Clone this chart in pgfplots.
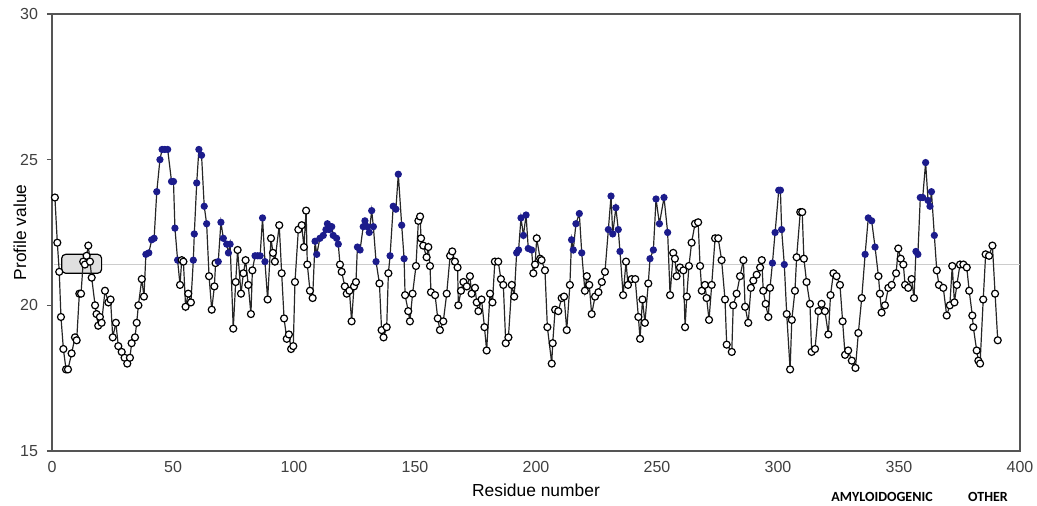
\documentclass[border=0pt]{standalone}
\usepackage{fontspec}
\setmainfont{Liberation Sans}
\newfontfamily\legfont{Carlito}
\usepackage{pgfplots}
\pgfplotsset{compat=1.18}
\usepackage{pgfplotstable}

\definecolor{amyblue}{RGB}{28,28,140}
\definecolor{axgray}{RGB}{85,85,85}

% residue, profile value, class (b = amyloidogenic)
\pgfplotstableread{
x y c
1.2 23.7 a
2.2 22.15 a
3.0 21.15 a
3.7 19.6 a
4.7 18.5 a
5.8 17.8 a
6.6 17.8 a
8.1 18.35 a
9.5 18.9 a
10.2 18.8 a
11.3 20.4 a
12.0 20.4 a
12.9 21.5 a
13.6 21.4 a
14.3 21.7 a
15.0 22.05 a
15.7 21.5 a
16.4 20.95 a
17.8 20.0 a
18.4 19.7 a
19.1 19.3 a
19.8 19.6 a
20.5 19.4 a
21.9 20.5 a
23.3 20.1 a
24.2 20.2 a
25.1 18.9 a
26.4 19.4 a
27.4 18.6 a
28.8 18.4 a
30.0 18.2 a
31.1 18.0 a
32.2 18.2 a
32.9 18.7 a
34.3 18.9 a
35.0 19.4 a
35.7 20.0 a
37.1 20.9 a
38.0 20.3 a
38.8 21.75 b
40.0 21.8 b
41.2 22.25 b
42.2 22.3 b
43.3 23.9 b
44.6 25.0 b
45.5 25.35 b
46.6 25.35 b
47.8 25.35 b
49.4 24.25 b
50.2 24.25 b
50.8 22.65 b
51.9 21.55 b
52.9 20.7 a
53.6 21.55 a
54.3 21.5 a
55.2 19.95 a
56.3 20.4 a
57.4 20.1 a
58.4 21.55 b
58.8 22.45 b
59.8 24.2 b
60.7 25.35 b
61.8 25.15 b
62.9 23.4 b
63.9 22.8 b
64.9 21.0 a
66.0 19.85 a
67.1 20.65 a
67.6 21.45 a
68.7 21.5 b
69.8 22.85 b
70.8 22.3 b
72.2 22.1 b
72.9 21.8 b
73.6 22.1 b
74.9 19.2 a
75.9 20.8 a
76.7 21.9 a
78.1 20.4 a
79.1 21.1 a
80.0 21.55 a
81.1 20.7 a
82.2 19.7 a
82.8 21.2 a
83.9 21.7 b
85.0 21.7 b
86.0 21.7 b
87.0 23.0 b
88.0 21.5 b
89.1 20.2 a
90.5 22.3 a
91.3 21.8 a
92.1 21.5 a
93.9 22.75 a
94.9 21.1 a
95.9 19.55 a
97.0 18.85 a
97.9 19.0 a
98.8 18.5 a
99.7 18.6 a
100.4 20.8 a
101.8 22.6 a
103.2 22.75 a
104.1 22.0 a
105.0 23.25 a
105.5 21.4 a
106.6 20.5 a
107.7 20.25 a
108.7 22.2 b
109.4 21.75 b
110.7 22.3 b
112.1 22.4 b
113.2 22.6 b
113.8 22.8 b
114.6 22.6 b
115.6 22.7 b
116.2 22.4 b
117.6 22.3 b
118.3 22.1 b
119.0 21.4 a
119.7 21.15 a
121.0 20.65 a
121.8 20.4 a
122.9 20.5 a
123.8 19.45 a
124.8 20.65 a
125.6 20.8 a
126.2 22.0 b
127.3 21.9 b
128.6 22.7 b
129.3 22.9 b
130.3 22.7 b
131.1 22.5 b
132.1 23.25 b
132.8 22.7 b
133.9 21.5 b
135.3 20.75 a
136.2 19.15 a
137.0 18.9 a
138.3 19.25 a
139.0 21.1 a
139.7 21.7 b
141.0 23.4 b
142.1 23.3 b
143.1 24.5 b
144.5 22.75 b
145.5 21.6 b
145.9 20.35 a
147.2 19.8 a
147.9 19.45 a
149.0 20.4 a
150.4 21.35 a
151.4 22.9 a
152.1 23.05 a
152.5 22.3 a
153.4 22.05 a
154.8 21.65 a
155.5 22.0 a
156.2 21.35 a
156.6 20.45 a
158.3 20.35 a
159.4 19.55 a
160.3 19.15 a
161.7 19.45 a
163.1 20.4 a
164.5 21.7 a
165.4 21.85 a
166.5 21.5 a
167.6 21.3 a
167.9 20.0 a
169.0 20.5 a
170.0 20.8 a
171.4 20.65 a
172.7 21.0 a
173.4 20.4 a
174.8 20.6 a
175.5 20.1 a
176.2 19.8 a
177.5 20.2 a
178.7 19.25 a
179.6 18.45 a
181.0 20.4 a
182.0 20.1 a
183.0 21.5 a
184.4 21.5 a
185.5 20.9 a
186.5 20.7 a
187.5 18.7 a
188.6 18.9 a
190.0 20.7 a
191.0 20.3 a
192.0 21.8 b
192.8 21.9 b
193.8 23.0 b
194.8 22.4 b
195.9 23.1 b
196.8 21.95 b
198.2 21.9 b
198.9 21.1 a
199.6 21.4 a
200.3 22.3 a
201.7 21.6 a
202.3 21.55 a
203.7 21.2 a
204.7 19.25 a
206.5 18.0 a
206.9 18.7 a
207.9 19.85 a
209.2 19.8 a
210.6 20.25 a
211.6 20.3 a
212.7 19.15 a
214.0 20.7 a
214.7 22.25 b
215.4 21.9 b
216.5 22.8 b
217.9 23.15 b
218.9 21.8 b
220.2 20.5 a
221.0 21.0 a
222.0 20.7 a
223.0 19.7 a
224.4 20.3 a
225.8 20.45 a
227.2 20.8 a
228.5 21.15 a
229.9 22.6 b
231.0 23.75 b
231.7 22.45 b
233.0 23.35 b
234.0 22.6 b
234.7 21.85 b
236.0 20.35 a
237.2 21.5 a
238.0 20.7 a
239.5 20.9 a
241.0 20.9 a
242.3 19.6 a
243.0 18.85 a
244.0 20.2 a
245.0 19.4 a
246.4 20.75 a
247.1 21.6 b
248.5 21.9 b
249.6 23.65 b
251.0 22.8 b
252.9 23.7 b
254.4 22.5 b
255.4 20.35 a
256.7 21.8 a
257.4 21.6 a
258.1 21.0 a
259.5 21.3 a
260.9 21.2 a
261.6 19.25 a
262.3 20.3 a
263.2 21.35 a
264.3 22.15 a
265.7 22.8 a
267.0 22.85 a
267.8 21.35 a
268.5 20.5 a
269.8 20.7 a
270.5 20.25 a
271.5 19.5 a
272.6 20.7 a
274.0 22.3 a
275.3 22.3 a
276.7 21.55 a
278.1 20.2 a
278.8 18.65 a
280.9 18.4 a
281.5 20.0 a
282.9 20.4 a
284.3 21.0 a
285.7 21.55 a
286.4 19.95 a
287.7 19.4 a
288.8 20.6 a
289.8 20.85 a
291.2 21.05 a
292.6 21.3 a
293.3 21.55 a
293.9 20.5 a
294.9 20.05 a
296.0 19.6 a
296.7 20.6 a
297.7 21.45 b
298.8 22.5 b
300.3 23.95 b
301.0 23.95 b
301.5 22.6 b
302.6 21.4 b
303.6 19.7 a
305.0 17.8 a
305.7 19.5 a
307.0 20.5 a
307.7 21.65 a
309.2 23.2 a
310.0 23.2 a
310.7 21.6 a
311.8 20.8 a
313.2 20.05 a
313.9 18.4 a
315.3 18.5 a
316.7 19.8 a
318.0 20.05 a
319.4 19.8 a
320.8 19.0 a
321.7 20.35 a
322.9 21.1 a
324.2 21.0 a
325.6 20.7 a
326.7 19.45 a
327.7 18.3 a
329.0 18.45 a
330.5 18.1 a
332.0 17.85 a
333.2 19.05 a
334.6 20.25 a
336.0 21.75 b
337.3 23.0 b
338.7 22.9 b
340.1 22.0 b
341.5 21.0 a
342.1 20.4 a
342.8 19.75 a
344.2 20.0 a
345.6 20.6 a
347.0 20.7 a
348.8 21.1 a
349.7 21.95 a
350.7 21.6 a
351.8 21.4 a
352.5 20.7 a
353.8 20.6 a
355.2 20.9 a
356.2 20.25 a
357.0 21.85 b
357.8 21.75 b
358.8 23.7 b
359.8 23.7 b
361.0 24.9 b
362.0 23.6 b
362.8 23.4 b
363.4 23.9 b
364.6 22.4 b
365.6 21.2 a
366.5 20.7 a
368.3 20.6 a
369.7 19.65 a
371.0 20.0 a
372.0 21.35 a
372.9 20.1 a
373.9 20.7 a
375.2 21.4 a
376.6 21.4 a
378.0 21.3 a
379.0 20.5 a
380.3 19.65 a
380.7 19.25 a
382.1 18.45 a
382.8 18.1 a
383.5 18.0 a
384.8 20.2 a
385.8 21.75 a
387.2 21.7 a
388.6 22.05 a
389.7 20.4 a
390.8 18.8 a
}\profile

\begin{document}
\begin{tikzpicture}
\begin{axis}[
    scale only axis,
    width=484pt, height=218.5pt,
    xmin=0, xmax=400, ymin=15, ymax=30,
    xtick={0,50,...,400},
    ytick={15,20,25,30},
    ytick pos=left,
    axis line style={draw=axgray, line width=0.9pt},
    tick align=outside,
    major tick length=2.5pt,
    ytick style={draw=axgray, line width=0.8pt},
    xtick style={draw=none},
    ticklabel style={font=\fontsize{8}{9}\selectfont, text=black!75},
    xticklabel style={yshift=1pt},
    yticklabel style={xshift=-1pt},
    /pgf/number format/assume math mode=true,
    clip=false,
]
\addplot[gray!40, line width=0.6pt, forget plot] coordinates {(1,21.4) (400,21.4)};
\draw[black, fill=gray!25, rounded corners=2pt, line width=0.6pt]
    (axis cs:4,21.1) rectangle (axis cs:20.5,21.75);
\addplot[
    black!85, line width=0.6pt,
    scatter, scatter src=explicit symbolic,
    mark size=1.75pt,
    scatter/classes={
        a={mark=*, fill=white, draw=black},
        b={mark=*, mark size=1.5pt, fill=amyblue, draw=amyblue}
    },
] table[x=x, y=y, meta=c] {\profile};
\end{axis}
\node[font=\fontsize{8.7}{10}\selectfont] at ([yshift=-19.5pt]current axis.south) {Residue number};
\node[rotate=90, font=\fontsize{8.7}{10}\selectfont] at ([xshift=-16pt]current axis.west) {Profile value};
\node[font=\legfont\bfseries\fontsize{7}{8}\selectfont] at ([shift={(415pt,-23pt)}]current axis.south west) {AMYLOIDOGENIC};
\node[font=\legfont\bfseries\fontsize{7}{8}\selectfont] at ([shift={(468pt,-23pt)}]current axis.south west) {OTHER};
\pgfresetboundingbox
\path ([shift={(-26pt,-27.5pt)}]current axis.south west) rectangle ([shift={(8.5pt,7pt)}]current axis.north east);
\end{tikzpicture}
\end{document}
